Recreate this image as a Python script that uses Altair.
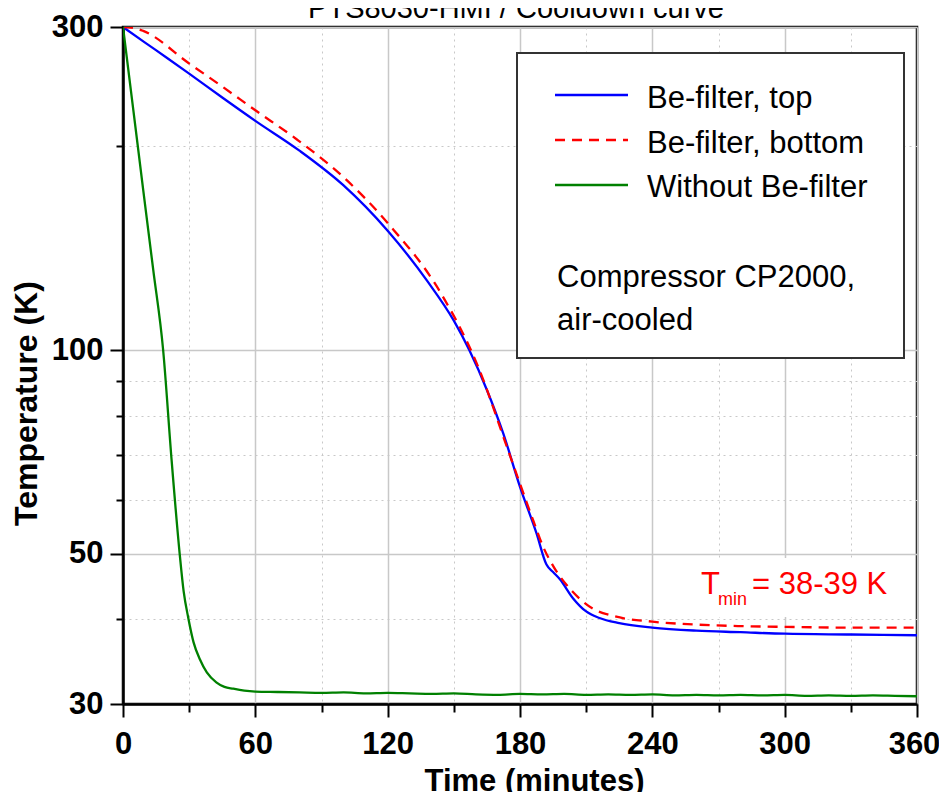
import altair as alt
import pandas as pd

FONT = "Liberation Sans"

# ---- data ----
top_t = [0, 10, 20, 30, 45, 60, 80, 100, 120, 138, 150, 157, 165, 172.4, 180, 187.5, 192, 195, 198, 204, 210, 216, 225, 240, 260, 280, 300, 330, 360]
top_T = [300, 284.5, 270, 256, 236, 218, 197, 175, 150, 126.4, 110.5, 100, 87.3, 75.3, 62.8, 53.6, 48.2, 47.0, 45.9, 43, 41.1, 40.2, 39.5, 38.9, 38.5, 38.3, 38.1, 38.0, 37.9]

bot_t = [0, 5, 9.2, 30, 45, 60, 78.7, 100, 120, 144, 161, 175, 186, 190.5, 195, 204, 213, 222, 240, 260, 280, 300, 330, 360]
bot_T = [300, 299, 296, 265, 245, 226, 204.8, 180, 154, 121.5, 94.5, 70.5, 56, 51.2, 48, 43.9, 41.5, 40.5, 39.7, 39.3, 39.1, 39.0, 38.9, 38.9]

nof_t = [0, 4.7, 9.2, 13.7, 18.2, 22, 25.7, 27.5, 29.6, 32, 34.9, 38, 42.3, 46, 50, 55, 60, 70, 80,
         90, 100, 110, 120, 130, 140, 150, 160, 170, 180, 190, 200, 210, 220, 230, 240, 250, 260,
         270, 280, 290, 300, 310, 320, 330, 340, 350, 360]
nof_T = [300, 226, 172, 131.4, 100, 69, 50, 44, 40.2, 37, 34.9, 33.4, 32.3, 31.8, 31.6, 31.4, 31.3, 31.25, 31.2,
         31.15, 31.2, 31.1, 31.15, 31.1, 31.05, 31.1, 31.0, 30.95, 31.05, 31.0, 31.05, 30.95, 31.0, 30.95, 31.0, 30.9, 30.95,
         30.9, 30.95, 30.9, 30.95, 30.85, 30.9, 30.85, 30.9, 30.85, 30.8]

series_names = ["Be-filter, top", "Be-filter, bottom", "Without Be-filter"]
series_colors = ["#0000ff", "#ff0000", "#008000"]
x_ticks = [0, 30, 60, 90, 120, 150, 180, 210, 240, 270, 300, 330, 360]
y_ticks = [30, 40, 50, 60, 70, 80, 90, 100, 200, 300]
title_text = ["PTS8030-HMI  /  Cooldown curve"]
note_lines = ["Compressor CP2000,", "air-cooled"]
tmin_parts = ["T", "min", "= 38-39 K"]

W, H = 794, 677

xscale = alt.Scale(domain=[0, 360], nice=False, zero=False)
yscale = alt.Scale(type="log", domain=[30, 300], nice=False)

x_minor = "datum.value % 60 !== 0"
y_major = "datum.value == 30 || datum.value == 50 || datum.value == 100 || datum.value == 300"

xaxis = alt.Axis(
    values=x_ticks,
    labelExpr="datum.value % 60 === 0 ? datum.label : ''",
    title="Time (minutes)",
    titleX=411, titleY=86, titleBaseline="alphabetic", titleAnchor="start", titleAlign="center",
    titleFontSize=31, titleFontWeight="bold", titleFont=FONT,
    labelFontSize=31, labelFontWeight="bold", labelFont=FONT, labelColor="black",
    labelPadding=12, labelFlush=False, labelOverlap=False,
    labelOffset={"condition": {"test": "datum.value == 360", "value": -3}, "value": 0},
    grid=True, gridColor="#c8c8c8",
    gridDash={"condition": {"test": x_minor, "value": [2, 4]}, "value": [1, 0]},
    gridWidth={"condition": {"test": x_minor, "value": 1}, "value": 1.5},
    tickSize={"condition": {"test": x_minor, "value": 8}, "value": 13},
    tickColor="black", tickWidth=2,
    domainColor="black", domainWidth=2.5,
)
yaxis = alt.Axis(
    values=y_ticks,
    format="d",
    labelExpr="(" + y_major + ") ? datum.label : ''",
    title="Temperature (K)",
    titleX=-87, titleY=376, titleBaseline="alphabetic", titleAngle=270, titleAlign="center",
    titleFontSize=32, titleFontWeight="bold", titleFont=FONT,
    labelFontSize=31, labelFontWeight="bold", labelFont=FONT, labelColor="black",
    labelPadding=7, labelFlush=False, labelOverlap=False,
    grid=True, gridColor="#c8c8c8",
    gridDash={"condition": {"test": y_major, "value": [1, 0]}, "value": [2, 4]},
    gridWidth={"condition": {"test": y_major, "value": 1.5}, "value": 1},
    tickSize={"condition": {"test": y_major, "value": 13}, "value": 7},
    tickColor="black", tickWidth=2,
    domainColor="black", domainWidth=2.5,
)


def series_layer(ts, Ts, color, dash=None):
    df = pd.DataFrame({"t": ts, "T": Ts})
    kw = dict(color=color, strokeWidth=2.3, clip=True, interpolate="monotone")
    if dash is not None:
        kw["strokeDash"] = dash
    return alt.Chart(df).mark_line(**kw).encode(
        x=alt.X("t:Q", scale=xscale, axis=xaxis),
        y=alt.Y("T:Q", scale=yscale, axis=yaxis),
    )


one = pd.DataFrame({"a": [0]})


def text_layer(s, x, y, size, color="black", weight="normal", align="left"):
    return alt.Chart(pd.DataFrame({"s": [s]})).mark_text(
        align=align, baseline="alphabetic", fontSize=size, font=FONT,
        color=color, fontWeight=weight,
    ).encode(x=alt.value(x), y=alt.value(y), text="s:N")


def box_layer(x1, x2, y1, y2, stroke=None):
    kw = dict(fill="white")
    if stroke:
        kw.update(stroke=stroke, strokeWidth=2)
    else:
        kw.update(strokeWidth=0)
    return alt.Chart(one).mark_rect(**kw).encode(
        x=alt.value(x1), x2=alt.value(x2), y=alt.value(y1), y2=alt.value(y2))


def legend_line(y, color, dash=None):
    kw = dict(color=color, strokeWidth=2.5)
    if dash is not None:
        kw["strokeDash"] = dash
    return alt.Chart(one).mark_rule(**kw).encode(
        x=alt.value(432), x2=alt.value(505), y=alt.value(y))


layers = [
    box_layer(562, 770, 531, 590),
    series_layer(top_t, top_T, series_colors[0]),
    series_layer(bot_t, bot_T, series_colors[1], [10, 7]),
    series_layer(nof_t, nof_T, series_colors[2]),
    box_layer(394, 781, 26, 331, stroke="#333333"),
    legend_line(68, series_colors[0]),
    legend_line(113, series_colors[1], [10, 7]),
    legend_line(158, series_colors[2]),
    text_layer(series_names[0], 524, 81, 31),
    text_layer(series_names[1], 524, 126, 31),
    text_layer(series_names[2], 524, 170, 31),
    text_layer(note_lines[0], 434, 260, 31),
    text_layer(note_lines[1], 434, 303, 31),
    text_layer(tmin_parts[0], 578, 567, 31, color="#ff0000"),
    text_layer(tmin_parts[1], 595, 578, 18, color="#ff0000"),
    text_layer(tmin_parts[2], 629, 567, 31, color="#ff0000"),
    text_layer(title_text[0], 393, -9, 29, align="center"),
]

chart = alt.layer(*layers).properties(
    width=W, height=H,
    autosize=alt.AutoSizeParams(type="none"),
    padding={"left": 115, "top": 19, "right": 22, "bottom": 88},
    background="white",
).configure_view(stroke="black", strokeWidth=2.5)

chart.save("out.html", embed_options={"renderer": "svg", "actions": False})
